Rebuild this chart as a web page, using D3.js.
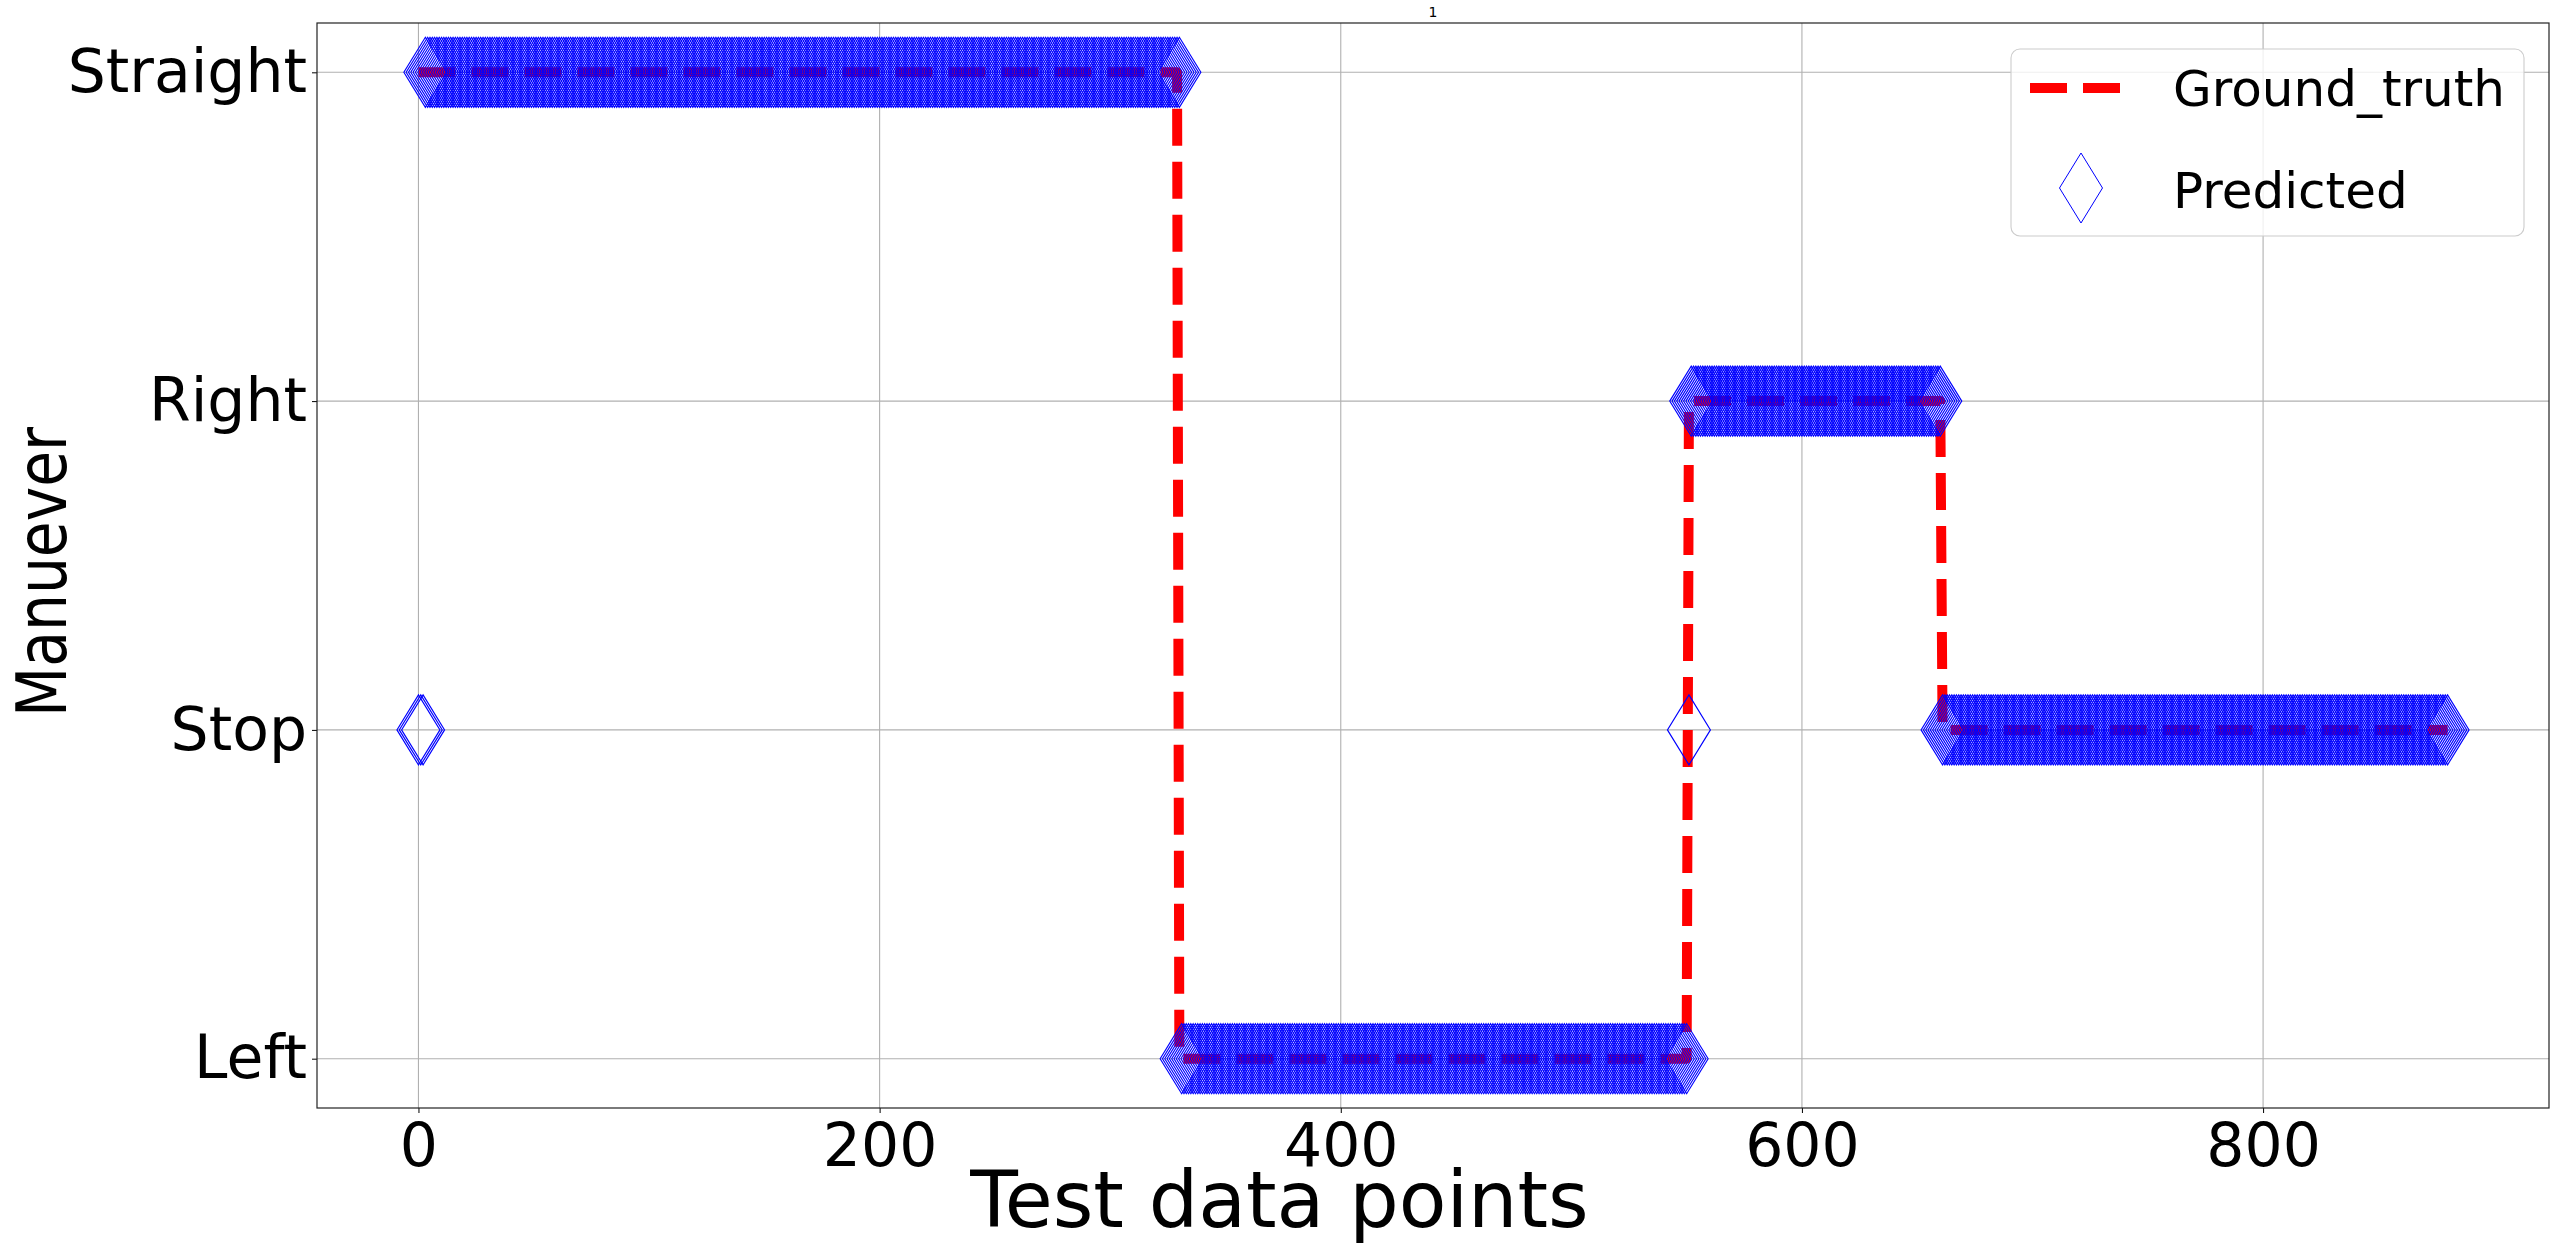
<!DOCTYPE html>
<html lang="en">
<head>
    <meta charset="UTF-8">
    <title>Manuever prediction</title>
    <script src="https://d3js.org/d3.v7.min.js"></script>
    <style>
        body {
            margin: 0;
            background-color: #ffffff;
            font-family: "DejaVu Sans", sans-serif;
        }
        svg {
            display: block;
        }
        .grid line {
            stroke: #b0b0b0;
            stroke-width: 1.1;
        }
    </style>
</head>
<body>
    <svg id="chart"></svg>
    <script>
        // values
        const categories = ["Left", "Stop", "Right", "Straight"];
        const xTicks = [0, 200, 400, 600, 800];
        // [maneuver, number of consecutive test points]
        const groundTruthRuns = [["Straight", 330], ["Left", 221], ["Right", 110], ["Stop", 220]];
        const predictedRuns = [["Stop", 3], ["Straight", 328], ["Left", 220], ["Stop", 1], ["Right", 109], ["Stop", 220]];

        const groundTruth = groundTruthRuns.flatMap(([c, n]) => Array(n).fill(c));
        const predicted = predictedRuns.flatMap(([c, n]) => Array(n).fill(c));

        const width = 2559, height = 1246;
        const plot = { left: 317, right: 2549, top: 23, bottom: 1108 };

        const svg = d3.select("#chart")
            .attr("width", width)
            .attr("height", height);

        const xMax = groundTruth.length - 1;
        const xScale = d3.scaleLinear()
            .domain([-0.05 * xMax, 1.05 * xMax])
            .range([plot.left, plot.right]);

        const yScale = d3.scalePoint()
            .domain(categories)
            .range([plot.bottom, plot.top])
            .padding(0.15);

        // grid
        const grid = svg.append("g").attr("class", "grid");
        grid.selectAll(".vx")
            .data(xTicks)
            .enter().append("line")
            .attr("x1", d => xScale(d)).attr("x2", d => xScale(d))
            .attr("y1", plot.top).attr("y2", plot.bottom);
        grid.selectAll(".hy")
            .data(categories)
            .enter().append("line")
            .attr("x1", plot.left).attr("x2", plot.right)
            .attr("y1", d => yScale(d)).attr("y2", d => yScale(d));

        // ground truth, red dashed
        const line = d3.line()
            .x((d, i) => xScale(i))
            .y(d => yScale(d));

        svg.append("path")
            .datum(groundTruth)
            .attr("d", line)
            .attr("fill", "none")
            .attr("stroke", "#ff0000")
            .attr("stroke-width", 10)
            .attr("stroke-dasharray", "37,16")
            .attr("stroke-linejoin", "round");

        // predicted, hollow thin diamonds
        const diamond = "M0,-35L21.5,0L0,35L-21.5,0Z";
        svg.append("g")
            .selectAll("path")
            .data(predicted)
            .enter().append("path")
            .attr("d", diamond)
            .attr("transform", (d, i) => `translate(${xScale(i)},${yScale(d)})`)
            .attr("fill", "none")
            .attr("stroke", "#0000ff")
            .attr("stroke-width", 1.15);

        // axes
        const xAxis = svg.append("g")
            .attr("transform", `translate(0,${plot.bottom})`)
            .call(d3.axisBottom(xScale).tickValues(xTicks).tickSize(5).tickPadding(10).tickSizeOuter(0));
        xAxis.select(".domain").remove();
        xAxis.selectAll("text")
            .style("font-family", "DejaVu Sans")
            .style("font-size", "60px")
            .attr("fill", "#000");

        const yAxis = svg.append("g")
            .attr("transform", `translate(${plot.left},0)`)
            .call(d3.axisLeft(yScale).tickSize(5).tickPadding(5).tickSizeOuter(0));
        yAxis.select(".domain").remove();
        yAxis.selectAll("text")
            .style("font-family", "DejaVu Sans")
            .style("font-size", "60px")
            .attr("fill", "#000");

        svg.append("rect")
            .attr("x", plot.left).attr("y", plot.top)
            .attr("width", plot.right - plot.left)
            .attr("height", plot.bottom - plot.top)
            .attr("fill", "none")
            .attr("stroke", "#222")
            .attr("stroke-width", 1.2);

        // labels
        svg.append("text")
            .attr("x", (plot.left + plot.right) / 2)
            .attr("y", 17)
            .attr("text-anchor", "middle")
            .style("font-size", "14px")
            .text("1");

        svg.append("text")
            .attr("x", width / 2)
            .attr("y", 1227)
            .attr("text-anchor", "middle")
            .style("font-size", "78px")
            .text("Test data points");

        svg.append("text")
            .attr("transform", "translate(66,572) rotate(-90)")
            .attr("text-anchor", "middle")
            .attr("textLength", 290)
            .attr("lengthAdjust", "spacingAndGlyphs")
            .style("font-size", "70px")
            .text("Manuever");

        // legend
        const legend = svg.append("g");
        legend.append("rect")
            .attr("x", 2011).attr("y", 49)
            .attr("width", 513).attr("height", 187)
            .attr("rx", 9)
            .attr("fill", "#ffffff")
            .attr("fill-opacity", 0.8)
            .attr("stroke", "#cccccc")
            .attr("stroke-width", 1.1);
        legend.append("line")
            .attr("x1", 2030).attr("x2", 2120)
            .attr("y1", 88).attr("y2", 88)
            .attr("stroke", "#ff0000")
            .attr("stroke-width", 10)
            .attr("stroke-dasharray", "37,16");
        legend.append("path")
            .attr("d", diamond)
            .attr("transform", "translate(2081,188)")
            .attr("fill", "none")
            .attr("stroke", "#0000ff")
            .attr("stroke-width", 1);
        legend.append("text")
            .attr("x", 2173).attr("y", 106)
            .style("font-size", "50px")
            .text("Ground_truth");
        legend.append("text")
            .attr("x", 2173).attr("y", 208)
            .style("font-size", "50px")
            .text("Predicted");
    </script>
</body>
</html>
